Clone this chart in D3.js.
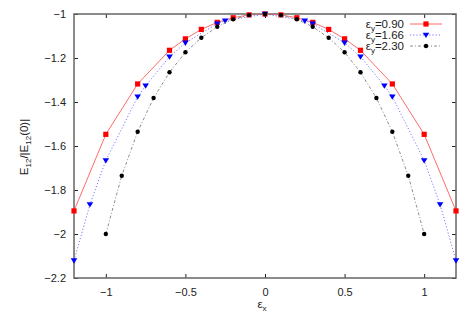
<!DOCTYPE html>
<html>
<head>
<meta charset="utf-8">
<script src="https://cdn.jsdelivr.net/npm/d3@7"></script>
<style>
  body { margin: 0; background: #fff; }
  text { font-family: "Liberation Sans", Arial, sans-serif; fill: #222; }
</style>
</head>
<body>
<div class="chart"></div>
<script>
var svgWidth = 469;
var svgHeight = 328;

var margin = { top: 14, right: 13, bottom: 50, left: 74 };
var width = svgWidth - margin.left - margin.right;
var height = svgHeight - margin.top - margin.bottom;

// data
var redX = [-1.2, -1.0, -0.8, -0.6, -0.5, -0.4, -0.3, -0.2, -0.1, 0, 0.1, 0.2, 0.3, 0.4, 0.5, 0.6, 0.8, 1.0, 1.2];
var redY = [-1.895, -1.547, -1.318, -1.165, -1.113, -1.070, -1.038, -1.017, -1.004, -1, -1.004, -1.017, -1.038, -1.070, -1.113, -1.165, -1.318, -1.547, -1.895];

var blueX = [-1.2, -1.1, -1.0, -0.8, -0.75, -0.6, -0.5, -0.3, -0.25, 0, 0.25, 0.3, 0.5, 0.6, 0.75, 0.8, 1.0, 1.1, 1.2];
var blueY = [-2.121, -1.866, -1.666, -1.376, -1.326, -1.194, -1.131, -1.044, -1.031, -1, -1.031, -1.044, -1.131, -1.194, -1.326, -1.376, -1.666, -1.866, -2.121];

var blackX = [-1.0, -0.9, -0.8, -0.7, -0.6, -0.5, -0.4, -0.3, -0.2, -0.1, 0, 0.1, 0.2, 0.3, 0.4, 0.5, 0.6, 0.7, 0.8, 0.9, 1.0];
var blackY = [-2.0, -1.735, -1.535, -1.382, -1.265, -1.174, -1.108, -1.058, -1.024, -1.005, -1, -1.005, -1.024, -1.058, -1.108, -1.174, -1.265, -1.382, -1.535, -1.735, -2.0];

var seriesNames = ["0.90", "1.66", "2.30"];
var xTicks = [-1, -0.5, 0, 0.5, 1];
var yTicks = [-1, -1.2, -1.4, -1.6, -1.8, -2, -2.2];

var svg = d3.select(".chart")
  .append("svg")
  .attr("width", svgWidth)
  .attr("height", svgHeight);

var chartGroup = svg.append("g")
  .attr("transform", `translate(${margin.left}, ${margin.top})`);

var x = d3.scaleLinear().domain([-1.2, 1.2]).range([0, width]);
var y = d3.scaleLinear().domain([-2.2, -1]).range([height, 0]);

// axes with inward ticks, mirrored on top and right
function styleAxis(g) {
  g.select(".domain").remove();
  g.selectAll(".tick line").attr("stroke", "#222");
  g.selectAll("text").style("font-size", "11px").attr("fill", "#222")
    .style("font-family", "'Liberation Sans', Arial, sans-serif");
}

chartGroup.append("g")
  .attr("transform", `translate(0, ${height})`)
  .call(d3.axisBottom(x).tickValues(xTicks).tickSize(-4).tickPadding(10).tickFormat(d3.format("")))
  .call(styleAxis);

chartGroup.append("g")
  .call(d3.axisTop(x).tickValues(xTicks).tickSize(-4).tickFormat(""))
  .call(styleAxis);

chartGroup.append("g")
  .call(d3.axisLeft(y).tickValues(yTicks).tickSize(-4).tickPadding(8).tickFormat(d3.format("")))
  .call(styleAxis);

chartGroup.append("g")
  .attr("transform", `translate(${width}, 0)`)
  .call(d3.axisRight(y).tickValues(yTicks).tickSize(-4).tickFormat(""))
  .call(styleAxis);

// frame
chartGroup.append("rect")
  .attr("width", width)
  .attr("height", height)
  .attr("fill", "none")
  .attr("stroke", "#666")
  .attr("stroke-width", 1.5);

var line = d3.line().x(d => x(d[0])).y(d => y(d[1]));

var series = [
  { xs: redX, ys: redY, color: "#ff0000", lineColor: "#ff5a5a", dash: null, marker: "square" },
  { xs: blueX, ys: blueY, color: "#0000ff", lineColor: "#6a6aff", dash: "1.2,2", marker: "triangle" },
  { xs: blackX, ys: blackY, color: "#000", lineColor: "#808080", dash: "3,2,1,2", marker: "circle" }
];

function drawMarker(g, type, color, cx, cy) {
  if (type === "square") {
    g.append("rect").attr("x", cx - 2.6).attr("y", cy - 2.6)
      .attr("width", 5.2).attr("height", 5.2).attr("fill", color);
  } else if (type === "triangle") {
    g.append("path")
      .attr("d", `M${cx - 3.3},${cy - 2.3}L${cx + 3.3},${cy - 2.3}L${cx},${cy + 3.1}Z`)
      .attr("fill", color);
  } else {
    g.append("circle").attr("cx", cx).attr("cy", cy).attr("r", 2.2).attr("fill", color);
  }
}

series.forEach(function(s) {
  var pts = s.xs.map((v, i) => [v, s.ys[i]]);
  chartGroup.append("path")
    .datum(pts)
    .attr("d", line)
    .attr("fill", "none")
    .attr("stroke", s.lineColor)
    .attr("stroke-width", 0.9)
    .attr("stroke-dasharray", s.dash);
  var mg = chartGroup.append("g");
  pts.forEach(p => drawMarker(mg, s.marker, s.color, x(p[0]), y(p[1])));
});

// legend
var legend = svg.append("g");
series.forEach(function(s, i) {
  var ly = 24 + i * 11;
  var t = legend.append("text")
    .attr("x", 404)
    .attr("y", ly + 4)
    .attr("text-anchor", "end")
    .style("font-size", "11.5px");
  t.append("tspan").text("ε");
  t.append("tspan").attr("dy", 3).style("font-size", "8px").text("y");
  t.append("tspan").attr("dy", -3).text("=" + seriesNames[i]);
  legend.append("line")
    .attr("x1", 410).attr("x2", 442)
    .attr("y1", ly).attr("y2", ly)
    .attr("stroke", s.lineColor)
    .attr("stroke-width", 0.9)
    .attr("stroke-dasharray", s.dash);
  drawMarker(legend, s.marker, s.color, 426, ly);
});

// axis titles
var xt = svg.append("text")
  .attr("x", 262)
  .attr("y", 308)
  .attr("text-anchor", "middle")
  .style("font-size", "11.5px");
xt.append("tspan").text("ε");
xt.append("tspan").attr("dy", 3).style("font-size", "8px").text("x");

var yt = svg.append("text")
  .attr("transform", "translate(28, 147) rotate(-90)")
  .attr("text-anchor", "middle")
  .style("font-size", "11.5px");
yt.append("tspan").text("E");
yt.append("tspan").attr("dy", 3).style("font-size", "8px").text("12");
yt.append("tspan").attr("dy", -3).text("/|E");
yt.append("tspan").attr("dy", 3).style("font-size", "8px").text("12");
yt.append("tspan").attr("dy", -3).text("(0)|");
</script>
</body>
</html>
